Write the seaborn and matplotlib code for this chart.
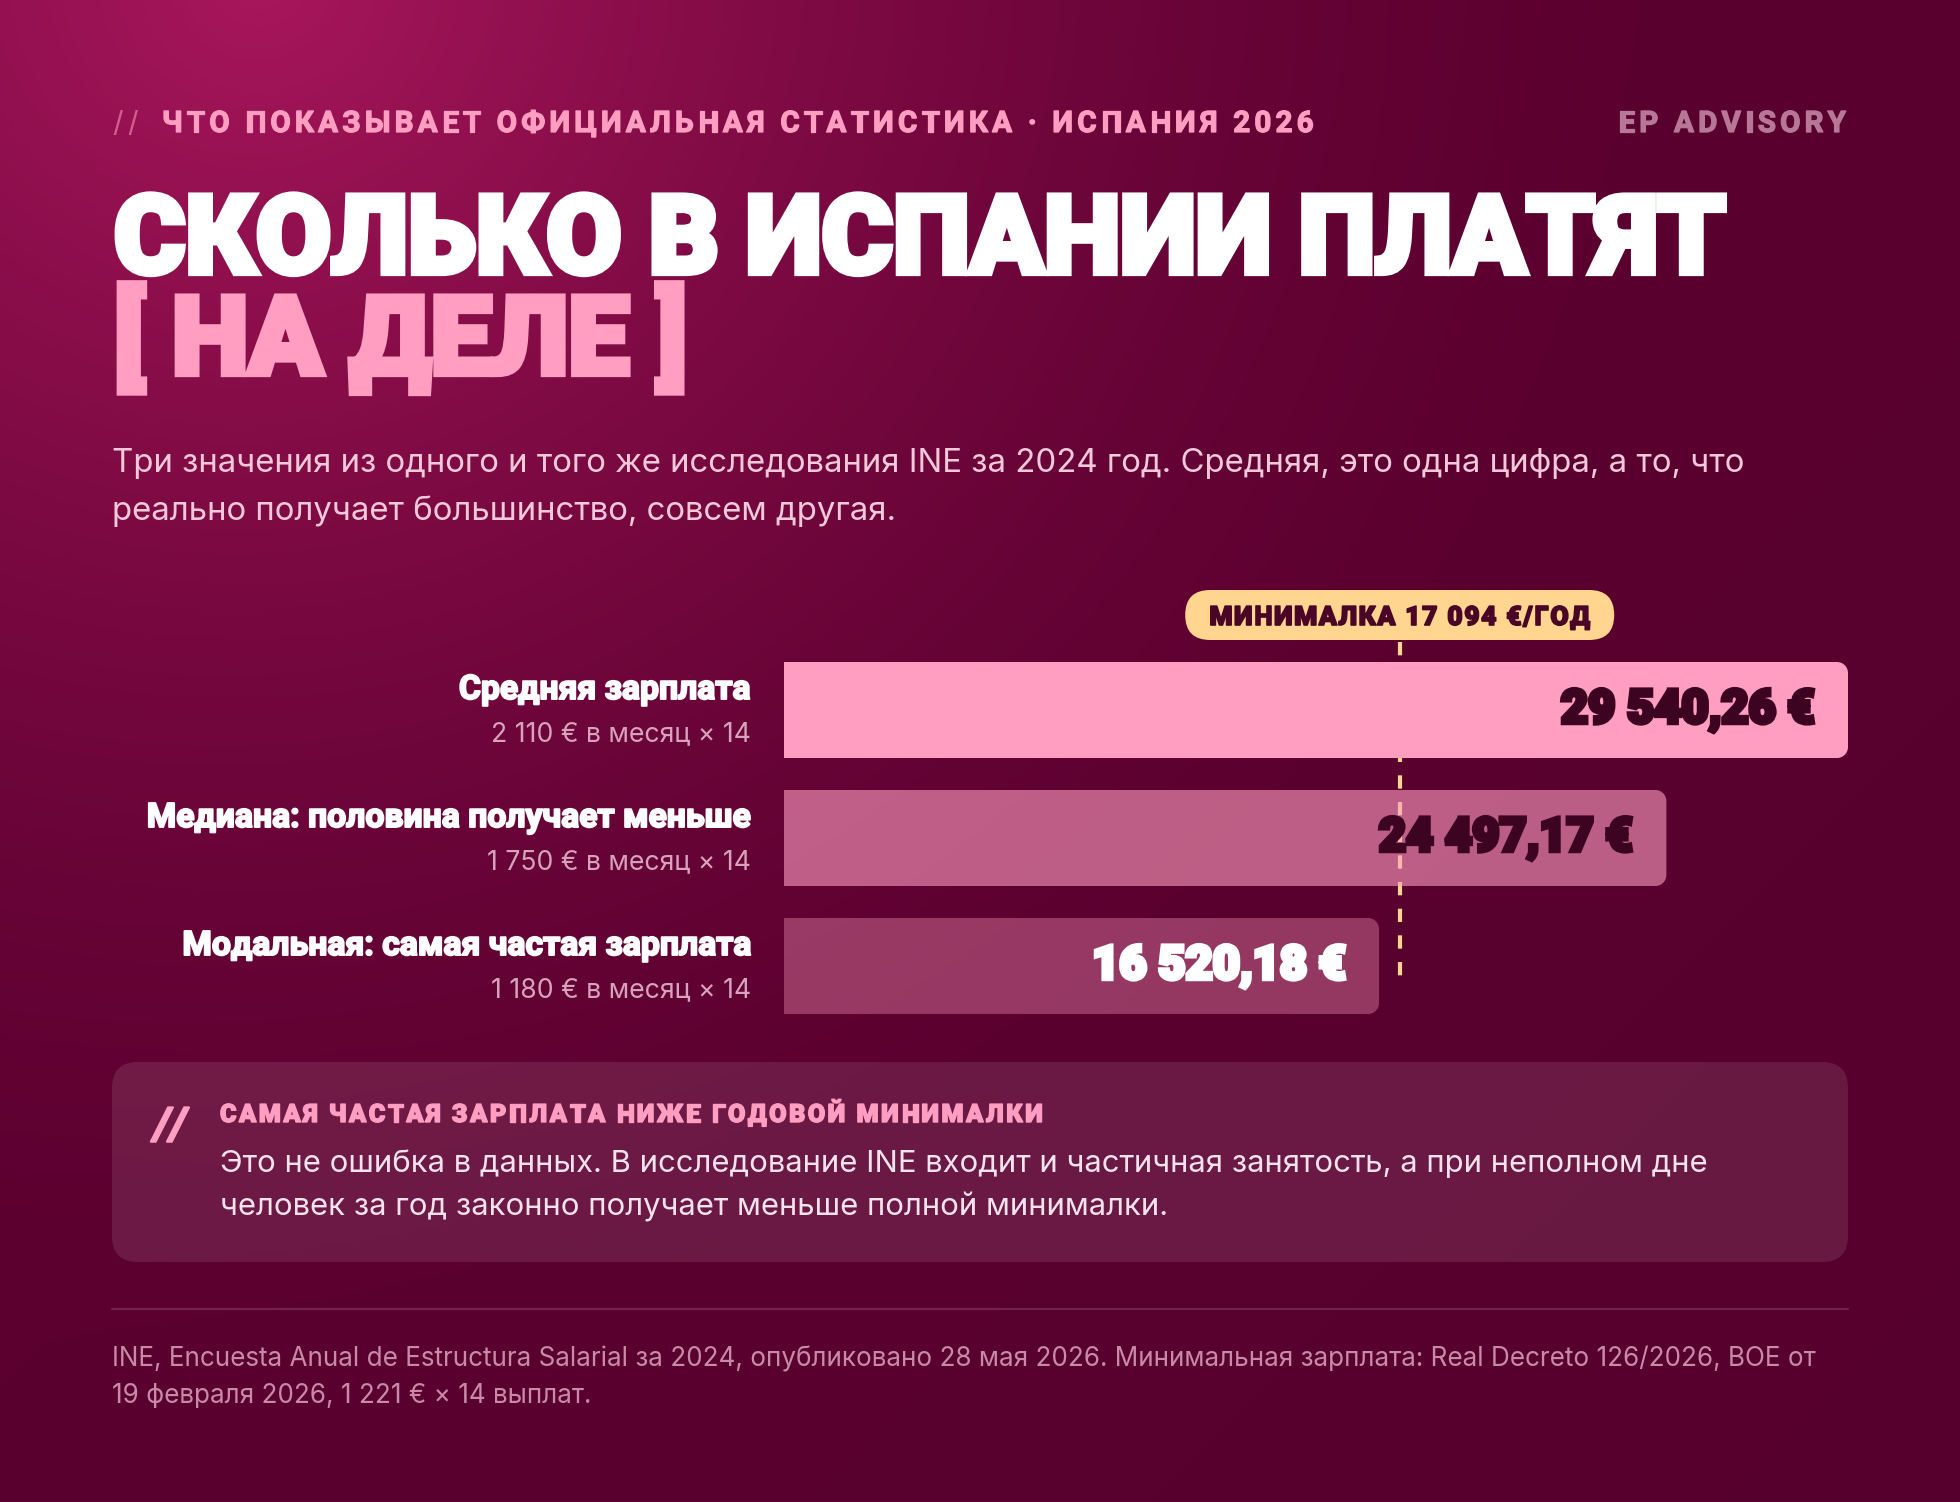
import numpy as np
import pandas as pd
import matplotlib
matplotlib.use("Agg")
import matplotlib.pyplot as plt
import matplotlib.patheffects as pe
from matplotlib.patches import FancyBboxPatch, PathPatch
from matplotlib.path import Path
import seaborn as sns

# ---------------- data ----------------
categories = ["Средняя зарплата",
              "Медиана: половина получает меньше",
              "Модальная: самая частая зарплата"]
annual_values = [29540.26, 24497.17, 16520.18]
value_labels = ["29 540,26 €", "24 497,17 €", "16 520,18 €"]
monthly_labels = ["2 110 € в месяц × 14", "1 750 € в месяц × 14", "1 180 € в месяц × 14"]
min_wage = 17094
min_wage_label = "МИНИМАЛКА 17 094 €/ГОД"

header_text = "ЧТО ПОКАЗЫВАЕТ ОФИЦИАЛЬНАЯ СТАТИСТИКА · ИСПАНИЯ 2026"
brand_text = "EP ADVISORY"
title_line1 = "СКОЛЬКО В ИСПАНИИ ПЛАТЯТ"
title_line2 = "[ НА ДЕЛЕ ]"
subtitle_lines = ["Три значения из одного и того же исследования INE за 2024 год. Средняя, это одна цифра, а то, что",
                  "реально получает большинство, совсем другая."]
note_heading = "САМАЯ ЧАСТАЯ ЗАРПЛАТА НИЖЕ ГОДОВОЙ МИНИМАЛКИ"
note_lines = ["Это не ошибка в данных. В исследование INE входит и частичная занятость, а при неполном дне",
              "человек за год законно получает меньше полной минималки."]
footer_lines = ["INE, Encuesta Anual de Estructura Salarial за 2024, опубликовано 28 мая 2026. Минимальная зарплата: Real Decreto 126/2026, BOE от",
                "19 февраля 2026, 1 221 € × 14 выплат."]

# ---------------- style ----------------
PINK = "#FF9EC0"
DARK = "#3D0421"
YELLOW = "#FFD58F"
bar_alphas = [1.0, 0.6, 0.36]
value_colors = [DARK, DARK, "white"]

sns.set_theme(style="white")
REG = ["Inter", "DejaVu Sans"]
HEAVY = ["Roboto", "DejaVu Sans"]
plt.rcParams["font.family"] = REG


def heavy(color, w, join="round"):
    return [pe.withStroke(linewidth=w, foreground=color, joinstyle=join)]


W, H = 1960, 1502
fig = plt.figure(figsize=(W / 100, H / 100), dpi=100)
bg = fig.add_axes([0, 0, 1, 1])
bg.axis("off")

# background gradient
yy, xx = np.mgrid[0:H:2, 0:W:2]
d = np.hypot(xx - 260, (yy + 20) * 1.05)
t = np.clip(d / 1450.0, 0, 1)
t = 1 - (1 - t) ** 1.6
c0 = np.array([0xA9, 0x17, 0x5C]) / 255
c1 = np.array([0x5E, 0x00, 0x31]) / 255
img = c0 * (1 - t[..., None]) + c1 * t[..., None]
img *= (1 - 0.08 * np.clip((xx + yy) / (W + H), 0, 1))[..., None]
bg.imshow(img, extent=[0, W, H, 0], aspect="auto", interpolation="bilinear", zorder=0)
bg.set_xlim(0, W)
bg.set_ylim(H, 0)

R = fig.canvas.get_renderer()


def text_w(s, **kw):
    kw = {k: v for k, v in kw.items() if k != "path_effects"}
    tt = bg.text(0, 0, s, **kw)
    bb = tt.get_window_extent(renderer=R)
    tt.remove()
    return bb.width


def fit_size(s, target, **kw):
    f = 20.0
    for _ in range(3):
        f = f * target / text_w(s, fontsize=f, **kw)
    return f


def spaced(x, y, s, target=None, fontsize=None, track=0.12, ha="left", **kw):
    def adv(f):
        base = text_w("||", fontsize=f, **kw)
        return [text_w("|" + c + "|", fontsize=f, **kw) - base for c in s]

    def total(f, a):
        return sum(a) + track * f * 100 / 72 * (len(s) - 1)

    f = fontsize if fontsize else 20.0
    if target is not None:
        for _ in range(2):
            a = adv(f)
            f = f * target / total(f, a)
    a = adv(f)
    tw = total(f, a)
    if ha == "right":
        x = x - tw
    elif ha == "center":
        x = x - tw / 2
    cx = x
    for c, w in zip(s, a):
        bg.text(cx, y, c, fontsize=f, ha="left", va="baseline", zorder=5, **kw)
        cx += w + track * f * 100 / 72
    return f


# ---------------- header ----------------
hkw = dict(family=HEAVY, fontweight="bold", color=PINK, path_effects=heavy(PINK, 0.9))
fh = spaced(162, 132, header_text, target=1150, track=0.14, **hkw)
spaced(112, 132, "//", fontsize=fh, track=0.16, family=REG, color=PINK, alpha=0.55)
spaced(1846, 132, brand_text, fontsize=fh, track=0.14, ha="right",
       family=HEAVY, fontweight="bold", color="#B77796", path_effects=heavy("#B77796", 0.9))

# ---------------- title ----------------
tkw = dict(family=HEAVY, fontweight="black")
ft = fit_size(title_line1, 1612, **tkw)
bg.text(114, 273, title_line1, fontsize=ft, color="white", va="baseline", ha="left", zorder=5,
        path_effects=heavy("white", 4.5, "miter"), **tkw)
bg.text(114, 374, title_line2, fontsize=ft, color=PINK, va="baseline", ha="left", zorder=5,
        path_effects=heavy(PINK, 4.5, "miter"), **tkw)

# ---------------- subtitle ----------------
fs = fit_size(subtitle_lines[0], 1634, family=REG)
for i, ln in enumerate(subtitle_lines):
    bg.text(112, 472 + 48 * i, ln, fontsize=fs, color="#F2C8DA", va="baseline", ha="left", zorder=5)

# ---------------- bars ----------------
df = pd.DataFrame({"category": categories, "value": annual_values})
ax = fig.add_axes([784 / W, 1 - 1030 / H, 1064 / W, 384 / H])
sns.barplot(data=df, x="value", y="category", hue="category", palette=[PINK] * 3,
            legend=False, width=0.75, orient="h", ax=ax)
ax.set_xlim(0, max(annual_values))
ax.set_ylim(2.5, -0.5)
ax.axis("off")

inv = bg.transData.inverted()
MOVETO, LINETO, CURVE4, CLOSE = Path.MOVETO, Path.LINETO, Path.CURVE4, Path.CLOSEPOLY


def right_rounded(x0, y0, x1, y1, r):
    k = 0.5523 * r
    verts = [(x0, y0), (x1 - r, y0), (x1 - r + k, y0), (x1, y0 + r - k), (x1, y0 + r),
             (x1, y1 - r), (x1, y1 - r + k), (x1 - r + k, y1), (x1 - r, y1), (x0, y1), (x0, y0)]
    codes = [MOVETO, LINETO, CURVE4, CURVE4, CURVE4, LINETO, CURVE4, CURVE4, CURVE4, LINETO, CLOSE]
    return Path(verts, codes)


for i, p in enumerate(ax.patches):
    x0, y0, w, h = p.get_x(), p.get_y(), p.get_width(), p.get_height()
    (px0, py0), (px1, py1) = inv.transform(ax.transData.transform([(x0, y0), (x0 + w, y0 + h)]))
    top, bot = min(py0, py1), max(py0, py1)
    pp = PathPatch(right_rounded(px0, top, px1, bot, 11), transform=bg.transData,
                   facecolor=PINK, edgecolor="none", alpha=bar_alphas[i], zorder=3, clip_on=False)
    ax.add_patch(pp)
    p.set_visible(False)

# min wage line (under the bars)
ax.vlines(min_wage, -0.535, 2.15, colors=YELLOW, linewidth=3.0, linestyles=(0, (3.2, 3.2)),
          zorder=2, clip_on=False)

fv = fit_size(value_labels[0], 254, family=HEAVY, fontweight="black")
fl = fit_size(categories[0], 292, family=HEAVY, fontweight="bold")
fm = fit_size(monthly_labels[0], 260, family=REG)
for i, (v, lbl) in enumerate(zip(annual_values, value_labels)):
    ax.annotate(lbl, xy=(v, i), xytext=(-33, 0), textcoords="offset pixels", ha="right",
                va="center", fontsize=fv, color=value_colors[i], family=HEAVY,
                fontweight="black", zorder=6, annotation_clip=False,
                path_effects=heavy(value_colors[i], 3.2, "miter"))
    ax.annotate(categories[i], xy=(0, i), xytext=(-34, 11), textcoords="offset pixels",
                ha="right", va="baseline", fontsize=fl, color="white", family=HEAVY,
                fontweight="bold", annotation_clip=False, path_effects=heavy("white", 1.4))
    ax.annotate(monthly_labels[i], xy=(0, i), xytext=(-33, -31), textcoords="offset pixels",
                ha="right", va="baseline", fontsize=fm, color="#D9A2BC", family=REG,
                annotation_clip=False)

# pill label above the min-wage line
lx = inv.transform(ax.transData.transform([(min_wage, 0)]))[0][0]
pill = FancyBboxPatch((lx - 214.5, 590), 429, 50, boxstyle="round,pad=0,rounding_size=25",
                      facecolor=YELLOW, edgecolor="none", transform=bg.transData, zorder=4)
bg.add_patch(pill)
spaced(lx, 625, min_wage_label, target=380, track=0.06, ha="center",
       family=HEAVY, fontweight="black", color="#4A0626", path_effects=heavy("#4A0626", 1.2))

# ---------------- note box ----------------
box = FancyBboxPatch((112, 1062), 1736, 200, boxstyle="round,pad=0,rounding_size=26",
                     facecolor="white", alpha=0.1, edgecolor="none", transform=bg.transData, zorder=2)
bg.add_patch(box)
bg.text(154, 1139, "//", fontsize=32, color=PINK, va="baseline", ha="left",
        family=HEAVY, fontweight="bold", style="italic", zorder=5, path_effects=heavy(PINK, 1.5))
spaced(220, 1122, note_heading, target=822, track=0.1, family=HEAVY, fontweight="black",
       color=PINK, path_effects=heavy(PINK, 1.0))
fn = fit_size(note_lines[0], 1488, family=REG)
for i, ln in enumerate(note_lines):
    bg.text(220, 1172 + 44 * i, ln, fontsize=fn, color="#F6E2EC", va="baseline", ha="left", zorder=5)

# ---------------- footer ----------------
bg.plot([112, 1848], [1309, 1309], color="white", alpha=0.14, lw=1.6, zorder=2)
ff = fit_size(footer_lines[0], 1704, family=REG)
for i, ln in enumerate(footer_lines):
    bg.text(112, 1367 + 36 * i, ln, fontsize=ff, color="#C88AA6", va="baseline", ha="left", zorder=5)

fig.savefig("out.png", dpi=100)
